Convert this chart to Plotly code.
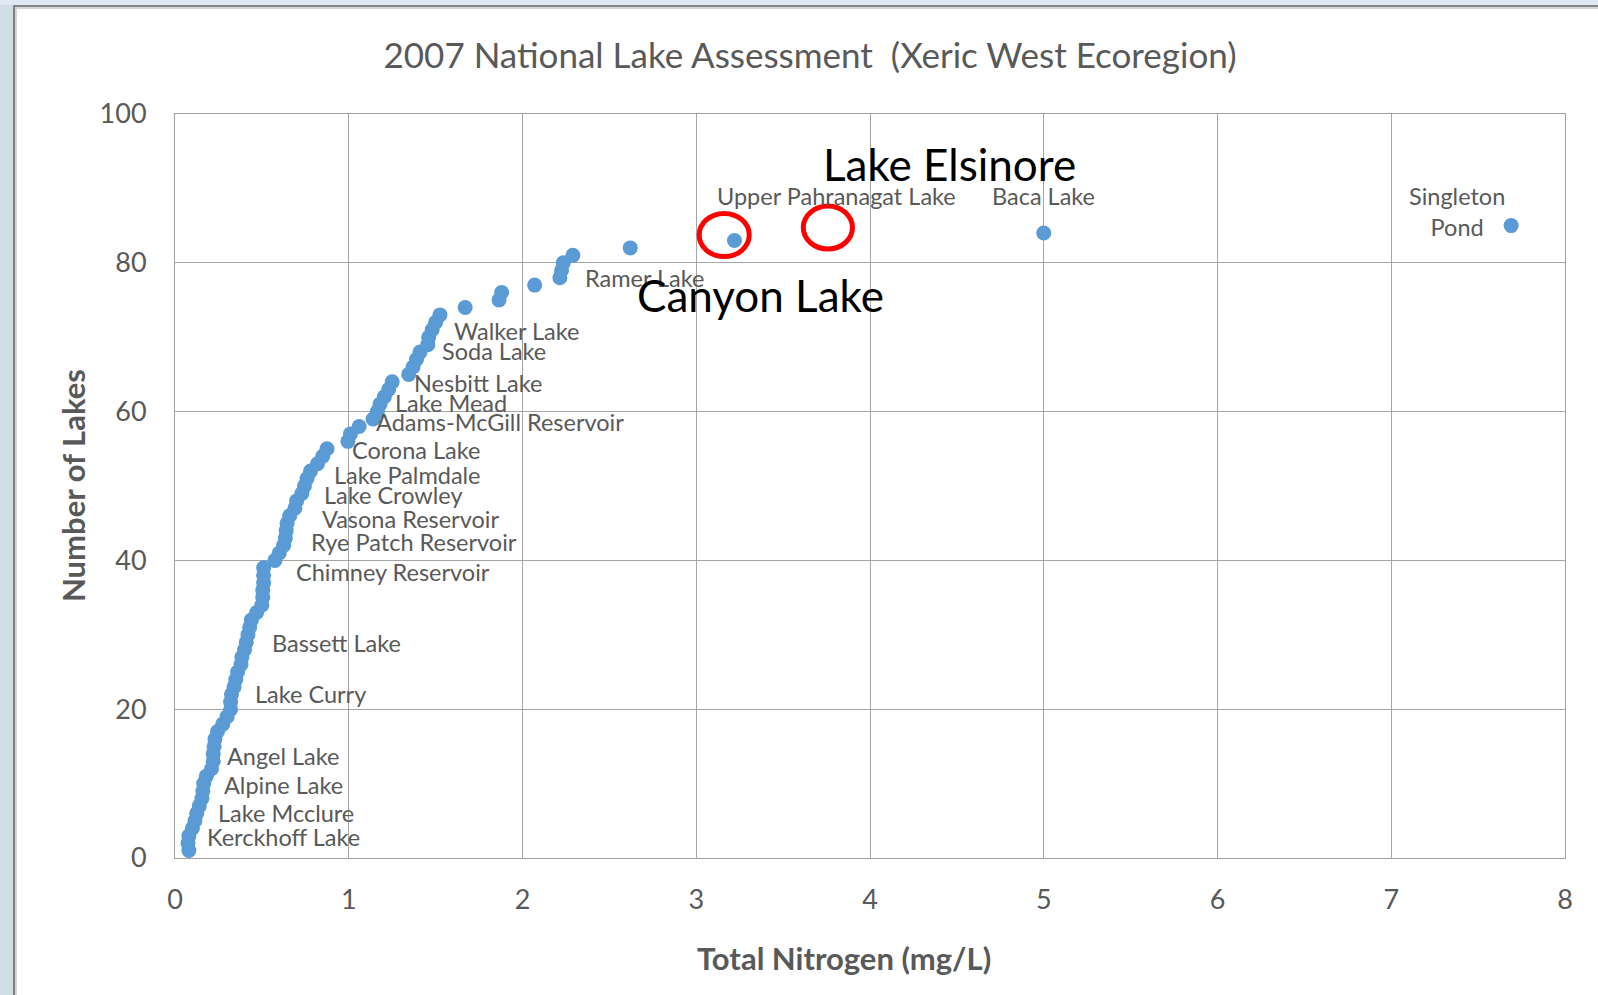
import plotly.graph_objects as go

# ---- data ----
rank = list(range(1, 86))
total_nitrogen = [
    0.08, 0.075, 0.08, 0.10, 0.115, 0.125, 0.14, 0.155, 0.16, 0.165,
    0.18, 0.21, 0.22, 0.22, 0.225, 0.23, 0.245, 0.275, 0.30, 0.32,
    0.32, 0.325, 0.34, 0.35, 0.36, 0.38, 0.385, 0.40, 0.41, 0.42,
    0.43, 0.44, 0.47, 0.50, 0.505, 0.505, 0.51, 0.51, 0.51, 0.575,
    0.60, 0.625, 0.635, 0.64, 0.645, 0.66, 0.69, 0.70, 0.73, 0.745,
    0.76, 0.78, 0.82, 0.85, 0.875, 0.995, 1.01, 1.06, 1.14, 1.165,
    1.18, 1.205, 1.23, 1.25, 1.345, 1.37, 1.39, 1.41, 1.455, 1.46,
    1.48, 1.50, 1.525, 1.67, 1.865, 1.88, 2.07, 2.215, 2.225, 2.235,
    2.29, 2.62, 3.22, 5.0, 7.69,
]

label_names = [
    "Kerckhoff Lake", "Lake Mcclure", "Alpine Lake", "Angel Lake", "Lake Curry",
    "Bassett Lake", "Chimney Reservoir", "Rye Patch Reservoir", "Vasona Reservoir",
    "Lake Crowley", "Lake Palmdale", "Corona Lake", "Adams-McGill Reservoir",
    "Lake Mead", "Nesbitt Lake", "Soda Lake", "Walker Lake", "Ramer Lake",
]
label_x = [0.170, 0.237, 0.270, 0.285, 0.448, 0.548, 0.682, 0.769, 0.836,
           0.845, 0.903, 1.008, 1.146, 1.252, 1.363, 1.523, 1.594, 2.346]
label_y = [2.85, 6.1, 9.8, 13.7, 22.0, 28.9, 38.5, 42.5, 45.6,
           48.8, 51.5, 54.8, 58.6, 61.2, 63.9, 68.1, 70.9, 78.0]

top_label_names = ["Upper Pahranagat Lake", "Baca Lake", "Singleton<br>Pond"]
top_label_x = [3.808, 4.997, 7.376]
top_label_y = [88.95, 88.95, 86.9]

callout_names = ["Lake Elsinore", "Canyon Lake"]
callout_x = [4.458, 3.367]
callout_y = [93.3, 75.7]

x_ticks = [0, 1, 2, 3, 4, 5, 6, 7, 8]
y_ticks = [0, 20, 40, 60, 80, 100]

title_text = "2007 National Lake Assessment  (Xeric West Ecoregion)"
x_title = "Total Nitrogen (mg/L)"
y_title = "Number of Lakes"

# ---- layout geometry (pixels) ----
W, H = 1598, 995
L, R, T, B = 175, 33, 114, 137
PW, PH = W - L - R, H - T - B

def px_x(p):
    return (p - L) / PW

def px_y(p):
    return (H - B - p) / PH

FONT = "Lato"
GRAY = "#595959"

fig = go.Figure()
fig.add_trace(go.Scatter(
    x=total_nitrogen, y=rank, mode="markers",
    marker=dict(color="#5b9bd5", size=15, line=dict(width=0)),
    showlegend=False, hoverinfo="x+y",
))

annotations = []
for n, x, y in zip(label_names, label_x, label_y):
    annotations.append(dict(x=x, y=y, xref="x", yref="y", text=n, showarrow=False,
                            xanchor="left", yanchor="middle",
                            font=dict(family=FONT, size=23.5, color=GRAY)))
for n, x, y in zip(top_label_names, top_label_x, top_label_y):
    annotations.append(dict(x=x, y=y, xref="x", yref="y", text=n, showarrow=False,
                            xanchor="center", yanchor="middle", align="center",
                            font=dict(family=FONT, size=23.5, color=GRAY)))
for n, x, y in zip(callout_names, callout_x, callout_y):
    annotations.append(dict(x=x, y=y, xref="x", yref="y", text=n, showarrow=False,
                            xanchor="center", yanchor="middle",
                            font=dict(family=FONT, size=44, color="black")))
# axis titles
annotations.append(dict(x=px_x(844), y=px_y(958), xref="paper", yref="paper",
                        text="<b>" + x_title + "</b>", showarrow=False,
                        xanchor="center", yanchor="middle",
                        font=dict(family=FONT, size=31, color=GRAY)))
annotations.append(dict(x=px_x(73), y=px_y(486), xref="paper", yref="paper",
                        text="<b>" + y_title + "</b>", showarrow=False, textangle=-90,
                        xanchor="center", yanchor="middle",
                        font=dict(family=FONT, size=31, color=GRAY)))

shapes = [
    # outer window frame (left and top)
    dict(type="rect", xref="paper", yref="paper", x0=px_x(0), x1=px_x(13), y0=px_y(H), y1=px_y(0),
         fillcolor="#d0dee6", line=dict(width=0), layer="below"),
    dict(type="rect", xref="paper", yref="paper", x0=px_x(0), x1=px_x(W), y0=px_y(5), y1=px_y(0),
         fillcolor="#dfe8f3", line=dict(width=0), layer="below"),
    dict(type="rect", xref="paper", yref="paper", x0=px_x(13), x1=px_x(15), y0=px_y(H), y1=px_y(5),
         fillcolor="#7f7f7f", line=dict(width=0), layer="below"),
    dict(type="rect", xref="paper", yref="paper", x0=px_x(13), x1=px_x(W), y0=px_y(7), y1=px_y(5),
         fillcolor="#868686", line=dict(width=0), layer="below"),
    dict(type="rect", xref="paper", yref="paper", x0=px_x(15), x1=px_x(17), y0=px_y(H), y1=px_y(7),
         fillcolor="#d6d6d6", line=dict(width=0), layer="below"),
    dict(type="rect", xref="paper", yref="paper", x0=px_x(15), x1=px_x(W), y0=px_y(9), y1=px_y(7),
         fillcolor="#d6d6d6", line=dict(width=0), layer="below"),
    # red circles
    dict(type="circle", xref="x", yref="y", x0=3.017, x1=3.305, y0=80.83, y1=86.64,
         line=dict(color="#ff0000", width=5)),
    dict(type="circle", xref="x", yref="y", x0=3.616, x1=3.899, y0=81.85, y1=87.62,
         line=dict(color="#ff0000", width=5)),
]

fig.update_layout(
    width=W, height=H,
    margin=dict(l=L, r=R, t=T, b=B, pad=0),
    paper_bgcolor="white", plot_bgcolor="white",
    title=dict(text=title_text,
               x=810 / W, xanchor="center", y=1 - 56 / H, yanchor="middle",
               font=dict(family=FONT, size=35, color=GRAY)),
    annotations=annotations, shapes=shapes,
    xaxis=dict(range=[0, 8], tickvals=x_ticks, showgrid=True, gridcolor="#a6a6a6", gridwidth=1,
               showline=True, linecolor="#a0a0a0", linewidth=1, mirror=True, zeroline=False,
               ticks="", ticklabelstandoff=18,
               tickfont=dict(family=FONT, size=27, color=GRAY)),
    yaxis=dict(range=[0, 100], tickvals=y_ticks, showgrid=True, gridcolor="#a6a6a6", gridwidth=1,
               showline=True, linecolor="#a0a0a0", linewidth=1, mirror=True, zeroline=False,
               ticks="", ticklabelstandoff=22,
               tickfont=dict(family=FONT, size=27, color=GRAY)),
)

fig.write_html("out.html", config={"displayModeBar": False},
               post_script="document.body.style.margin='0';document.body.style.overflow='hidden';")
